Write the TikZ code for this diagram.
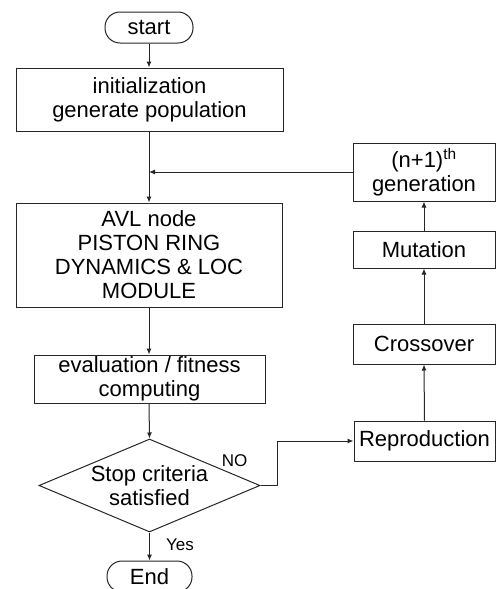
\documentclass[tikz,border=0pt]{standalone}
\usepackage{fontspec}
\setmainfont{Liberation Sans}
\usetikzlibrary{shapes.geometric,arrows.meta}
\begin{document}
\begin{tikzpicture}[x=1pt,y=-1pt,
  box/.style={draw=black!85,line width=1pt,rectangle,inner sep=0pt,align=center,
    font=\fontsize{22}{24}\selectfont},
  term/.style={box,rounded corners=15pt},
  lbl/.style={font=\fontsize{17}{19}\selectfont,inner sep=0pt},
  arr/.style={draw=black!85,line width=1pt,-{Latex[length=6pt,width=5pt]}},
  ln/.style={draw=black!85,line width=1pt}]
\useasboundingbox (0,0) rectangle (496,589);
\node[term,minimum width=88pt,minimum height=31pt] (start) at (149,27.5) {start};
\node[box,minimum width=267pt,minimum height=63pt] (init) at (149.5,99.5) {initialization\\generate population};
\node[box,minimum width=266pt,minimum height=104pt] (avl) at (149,255) {AVL node\\PISTON RING\\DYNAMICS \& LOC\\MODULE};
\node[box,minimum width=231pt,minimum height=48pt] (eval) at (149.5,379) {evaluation / fitness\\computing};
\node[draw=black!85,line width=1pt,diamond,inner sep=0pt,minimum width=221pt,minimum height=93pt,
  label={[align=center,font=\fontsize{22}{24}\selectfont]center:Stop criteria\\satisfied}] (dec) at (149.5,485.5) {};
\node[term,minimum width=85pt,minimum height=31pt] (end) at (149.5,576.5) {End};
\node[box,minimum width=142pt,minimum height=58pt] (gen) at (424,172) {(n+1)\textsuperscript{th}\\generation};
\node[box,minimum width=142pt,minimum height=37pt] (mut) at (424,249.5) {Mutation};
\node[box,minimum width=142pt,minimum height=40pt] (cross) at (424,344) {Crossover};
\node[box,minimum width=141pt,minimum height=40pt] (repro) at (424.5,441) {Reproduction};
\coordinate (nobend) at (277,485.5);
\draw[arr] (start.south) -- (init.north -| start.south);
\draw[arr] (init.south -| start.south) -- (avl.north -| start.south);
\draw[arr] (gen.west) -- (gen.west -| start.south);
\draw[arr] (avl.south -| start.south) -- (eval.north -| start.south);
\draw[arr] (eval.south -| start.south) -- (dec.north);
\draw[arr] (dec.south) -- (end.north -| dec.south);
\draw[arr] (dec.east) -- (nobend) |- (repro.west);
\draw[arr] (repro.north) -- (cross.south);
\draw[arr] (cross.north) -- (mut.south);
\draw[arr] (mut.north) -- (gen.south);
\node[lbl] (yes) at (180,545) {Yes};
\node[lbl] (no) at (234.5,461) {NO};
\end{tikzpicture}
\end{document}
